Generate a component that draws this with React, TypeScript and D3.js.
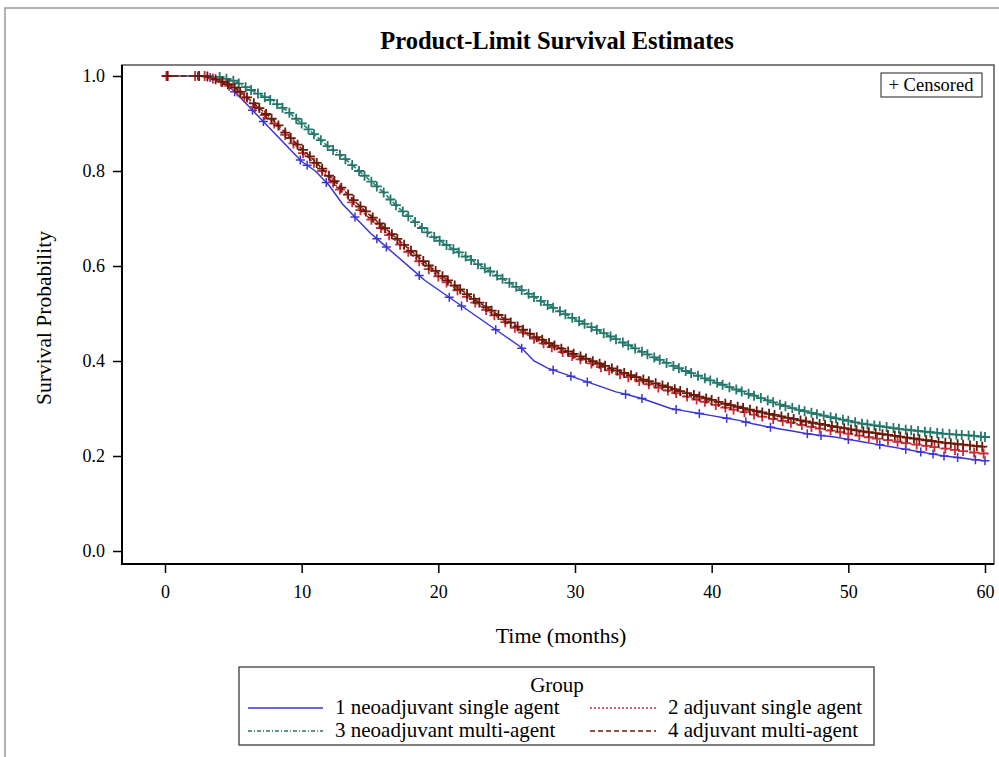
import React, { useEffect, useRef } from 'react';
import * as d3 from 'd3';

// survival estimates read at each month 0..60
const months = d3.range(0, 61);

const g1Surv = [1, 1, 1, 1, 0.99, 0.97, 0.94, 0.91, 0.88, 0.85, 0.82, 0.8, 0.77, 0.73, 0.7, 0.67, 0.645, 0.62, 0.595, 0.57,
  0.55, 0.53, 0.51, 0.49, 0.47, 0.45, 0.43, 0.4, 0.385, 0.375, 0.365, 0.355, 0.345, 0.335, 0.328, 0.32, 0.31, 0.3, 0.295, 0.29,
  0.285, 0.28, 0.275, 0.268, 0.262, 0.257, 0.252, 0.247, 0.243, 0.24, 0.235, 0.23, 0.225, 0.22, 0.215, 0.21, 0.205, 0.2, 0.197, 0.193, 0.19];

const g2Surv = [1, 1, 1, 1, 0.99, 0.975, 0.95, 0.925, 0.9, 0.87, 0.84, 0.815, 0.785, 0.755, 0.725, 0.7, 0.675, 0.65, 0.625, 0.6,
  0.578, 0.557, 0.537, 0.517, 0.498, 0.48, 0.463, 0.447, 0.433, 0.42, 0.408, 0.397, 0.386, 0.375, 0.365, 0.355, 0.345, 0.336, 0.327, 0.318,
  0.31, 0.302, 0.295, 0.288, 0.281, 0.275, 0.269, 0.263, 0.257, 0.252, 0.247, 0.242, 0.237, 0.233, 0.228, 0.224, 0.22, 0.216, 0.212, 0.208, 0.205];

const g3Surv = [1, 1, 1, 1, 0.998, 0.99, 0.975, 0.96, 0.945, 0.925, 0.9, 0.875, 0.85, 0.83, 0.805, 0.78, 0.755, 0.725, 0.7, 0.675,
  0.655, 0.637, 0.62, 0.602, 0.585, 0.568, 0.551, 0.535, 0.518, 0.503, 0.488, 0.474, 0.46, 0.446, 0.432, 0.418, 0.405, 0.392, 0.38, 0.369,
  0.358, 0.348, 0.338, 0.328, 0.318, 0.308, 0.3, 0.293, 0.286, 0.28, 0.274, 0.268, 0.264, 0.26, 0.256, 0.253, 0.25, 0.247, 0.245, 0.243, 0.24];

const g4Surv = [1, 1, 1, 1, 0.99, 0.978, 0.955, 0.93, 0.905, 0.875, 0.847, 0.82, 0.79, 0.762, 0.733, 0.707, 0.682, 0.657, 0.632, 0.608,
  0.585, 0.563, 0.543, 0.523, 0.504, 0.486, 0.469, 0.453, 0.439, 0.426, 0.414, 0.403, 0.392, 0.381, 0.371, 0.361, 0.352, 0.343, 0.334, 0.326,
  0.318, 0.31, 0.303, 0.296, 0.29, 0.284, 0.278, 0.272, 0.267, 0.262, 0.257, 0.252, 0.248, 0.244, 0.24, 0.236, 0.232, 0.228, 0.225, 0.222, 0.219];

// censoring times (months)
const g1Cens = [2.4, 3.3, 5.1, 6.4, 7.2, 9.9, 10.4, 11.8, 13.9, 15.5, 16.2, 18.6, 20.8, 21.7, 24.2, 26.1, 28.4, 29.7, 30.9, 33.7,
  34.9, 37.4, 39.1, 41.1, 42.5, 44.3, 47.0, 48.0, 50.0, 52.3, 54.2, 55.3, 56.2, 57.0, 58.0, 59.3, 60.0];

const g2Cens = [0.1, 2.2, 2.9, 3.5, 4.1, 4.7, 5.3, 5.8, 6.6, 7.3, 8.0, 8.8, 9.4, 10.1, 10.9, 11.5, 12.3, 12.8, 13.7, 14.3,
  15.1, 15.8, 16.4, 17.2, 17.8, 18.6, 19.3, 20.0, 20.6, 21.4, 22.1, 22.7, 23.5, 24.1, 24.9, 25.6, 26.2, 27.0, 27.7, 28.3,
  29.1, 29.8, 30.4, 31.2, 31.9, 32.5, 33.3, 33.9, 34.7, 35.4, 36.1, 36.8, 37.4, 38.2, 38.9, 39.5, 40.3, 41.0, 41.6, 42.4,
  43.1, 43.7, 44.5, 45.2, 45.8, 46.6, 47.3, 47.9, 48.7, 49.4, 50.0, 50.8, 51.5, 52.1, 52.9, 53.6, 54.2, 55.0, 55.7, 56.3,
  57.1, 57.8, 58.4, 59.2, 59.9];

const g3Cens = [4.0, 4.5, 5.0, 5.4, 5.9, 6.3, 6.8, 7.3, 7.7, 8.2, 8.6, 9.1, 9.6, 10.0, 10.5, 10.9, 11.4, 11.9, 12.3, 12.8,
  13.2, 13.7, 14.2, 14.6, 15.1, 15.5, 16.0, 16.5, 16.9, 17.4, 17.8, 18.3, 18.8, 19.2, 19.7, 20.1, 20.6, 21.1, 21.5, 22.0,
  22.4, 22.9, 23.4, 23.8, 24.3, 24.7, 25.2, 25.7, 26.1, 26.6, 27.0, 27.5, 28.0, 28.4, 28.9, 29.3, 29.8, 30.3, 30.7, 31.2,
  31.6, 32.1, 32.6, 33.0, 33.5, 33.9, 34.4, 34.9, 35.3, 35.8, 36.2, 36.7, 37.2, 37.6, 38.1, 38.5, 39.0, 39.5, 39.9, 40.4,
  40.8, 41.3, 41.8, 42.2, 42.7, 43.1, 43.6, 44.1, 44.5, 45.0, 45.4, 45.9, 46.4, 46.8, 47.3, 47.7, 48.2, 48.7, 49.1, 49.6,
  50.0, 50.5, 51.0, 51.4, 51.9, 52.3, 52.8, 53.3, 53.7, 54.2, 54.6, 55.1, 55.6, 56.0, 56.5, 56.9, 57.4, 57.9, 58.3, 58.8,
  59.2, 59.7, 60.0];

const g4Cens = [0.2, 2.5, 3.1, 3.7, 4.2, 4.6, 5.1, 5.5, 6.0, 6.5, 6.9, 7.4, 7.8, 8.3, 8.8, 9.2, 9.7, 10.1, 10.6, 11.1,
  11.5, 12.0, 12.4, 12.9, 13.4, 13.8, 14.3, 14.7, 15.2, 15.7, 16.1, 16.6, 17.0, 17.5, 18.0, 18.4, 18.9, 19.3, 19.8, 20.3,
  20.7, 21.2, 21.6, 22.1, 22.6, 23.0, 23.5, 23.9, 24.4, 24.9, 25.3, 25.8, 26.2, 26.7, 27.2, 27.6, 28.1, 28.5, 29.0, 29.5,
  29.9, 30.4, 30.8, 31.3, 31.8, 32.2, 32.7, 33.1, 33.6, 34.1, 34.5, 35.0, 35.4, 35.9, 36.4, 36.8, 37.3, 37.7, 38.2, 38.7,
  39.1, 39.6, 40.0, 40.5, 41.0, 41.4, 41.9, 42.3, 42.8, 43.3, 43.7, 44.2, 44.6, 45.1, 45.6, 46.0, 46.5, 46.9, 47.4, 47.9,
  48.3, 48.8, 49.2, 49.7, 50.2, 50.6, 51.1, 51.5, 52.0, 52.5, 52.9, 53.4, 53.8, 54.3, 54.8, 55.2, 55.7, 56.1, 56.6, 57.1,
  57.5, 58.0, 58.4, 58.9, 59.4, 59.8];

const groupLabels = ['1 neoadjuvant single agent', '2 adjuvant single agent', '3 neoadjuvant multi-agent', '4 adjuvant multi-agent'];
const xTicks = [0, 10, 20, 30, 40, 50, 60];
const yTicks = [0, 0.2, 0.4, 0.6, 0.8, 1.0];

const groups = [
  { surv: g1Surv, cens: g1Cens, color: '#3a35d4', dash: null },
  { surv: g2Surv, cens: g2Cens, color: '#cc2a36', dash: '2,2' },
  { surv: g3Surv, cens: g3Cens, color: '#23776b', dash: '4,2,1,2' },
  { surv: g4Surv, cens: g4Cens, color: '#6b1a0a', dash: '5,3' },
];

const FONT = '"Liberation Serif", "Times New Roman", serif';

const App = () => {
  const ref = useRef<SVGSVGElement>(null);

  useEffect(() => {
    const svg = d3.select(ref.current);
    svg.selectAll('*').remove();

    const left = 122, right = 994, top = 65, bottom = 564;
    const x = d3.scaleLinear().domain([0, 60]).range([165, 985]);
    const y = d3.scaleLinear().domain([0, 1]).range([551, 76]);

    svg.append('rect').attr('width', 999).attr('height', 757).attr('fill', '#fff');

    // outer frame (left and top edges visible)
    svg.append('path')
      .attr('d', `M5,757 L5,8 L999,8`)
      .attr('fill', 'none').attr('stroke', '#999').attr('stroke-width', 1.5);

    svg.append('text')
      .attr('x', 557).attr('y', 49)
      .attr('text-anchor', 'middle')
      .attr('font-family', FONT).attr('font-weight', 'bold').attr('font-size', 24.5)
      .text('Product-Limit Survival Estimates');

    // plot frame
    svg.append('rect')
      .attr('x', left).attr('y', top).attr('width', right - left).attr('height', bottom - top)
      .attr('fill', 'none').attr('stroke', '#555').attr('stroke-width', 1.5);
    svg.append('path')
      .attr('d', `M${left},${top} L${left},${bottom} L${right},${bottom}`)
      .attr('fill', 'none').attr('stroke', '#000').attr('stroke-width', 2);

    // axes
    const xAxis = svg.append('g')
      .attr('transform', `translate(0,${bottom})`)
      .call(d3.axisBottom(x).tickValues(xTicks).tickSize(9).tickPadding(12));
    const yAxis = svg.append('g')
      .attr('transform', `translate(${left},0)`)
      .call(d3.axisLeft(y).tickValues(yTicks).tickSize(9).tickPadding(8).tickFormat(d3.format('.1f')));
    [xAxis, yAxis].forEach(a => {
      a.select('.domain').remove();
      a.selectAll('line').attr('stroke', '#000').attr('stroke-width', 1.5);
      a.selectAll('text').attr('font-family', FONT).attr('font-size', 18).attr('fill', '#000');
    });

    svg.append('text')
      .attr('x', 561).attr('y', 643)
      .attr('text-anchor', 'middle')
      .attr('font-family', FONT).attr('font-size', 22)
      .text('Time (months)');
    svg.append('text')
      .attr('transform', 'translate(51,318) rotate(-90)')
      .attr('text-anchor', 'middle')
      .attr('font-family', FONT).attr('font-size', 21.5)
      .text('Survival Probability');

    // curves and censor marks
    const line = d3.line<number>().x((d, i) => x(months[i])).y(d => y(d));
    const plot = svg.append('g');
    groups.forEach((g, gi) => {
      plot.append('path')
        .attr('d', line(g.surv))
        .attr('fill', 'none')
        .attr('stroke', g.color)
        .attr('stroke-width', 1.5)
        .attr('stroke-dasharray', g.dash);
      const at = d3.scaleLinear().domain(months).range(g.surv);
      const arm = gi === 0 ? 4.5 : 5;
      plot.append('g').selectAll('path')
        .data(g.cens)
        .enter().append('path')
        .attr('d', t => {
          const cx = x(t), cy = y(at(t));
          return `M${cx - arm},${cy} L${cx + arm},${cy} M${cx},${cy - arm} L${cx},${cy + arm}`;
        })
        .attr('stroke', g.color)
        .attr('stroke-width', gi === 0 ? 1.5 : 1.8);
    });

    // censored legend
    svg.append('rect')
      .attr('x', 881).attr('y', 73).attr('width', 101).attr('height', 24)
      .attr('fill', '#fff').attr('stroke', '#444').attr('stroke-width', 1.2);
    svg.append('text')
      .attr('x', 931).attr('y', 91)
      .attr('text-anchor', 'middle')
      .attr('font-family', FONT).attr('font-size', 18.5)
      .text('+ Censored');

    // group legend
    svg.append('rect')
      .attr('x', 239).attr('y', 667).attr('width', 635).attr('height', 78)
      .attr('fill', '#fff').attr('stroke', '#555').attr('stroke-width', 1.5);
    svg.append('text')
      .attr('x', 557).attr('y', 692)
      .attr('text-anchor', 'middle')
      .attr('font-family', FONT).attr('font-size', 21)
      .text('Group');
    const cols = [248, 590];
    const rows = [708, 731];
    [0, 2, 1, 3].forEach((gi, k) => {
      const cx = cols[k < 2 ? 0 : 1];
      const cy = rows[k % 2];
      const g = groups[gi];
      const len = k < 2 ? 75 : 66;
      svg.append('line')
        .attr('x1', cx).attr('x2', cx + len).attr('y1', cy).attr('y2', cy)
        .attr('stroke', g.color).attr('stroke-width', 1.4)
        .attr('stroke-dasharray', g.dash);
      svg.append('text')
        .attr('x', cx + len + 12).attr('y', cy + 6)
        .attr('font-family', FONT).attr('font-size', 21)
        .text(groupLabels[gi]);
    });
  }, []);

  return (
    <svg ref={ref} width={999} height={757} style={{ position: 'absolute', left: 0, top: 0 }} />
  );
};

export default App;
